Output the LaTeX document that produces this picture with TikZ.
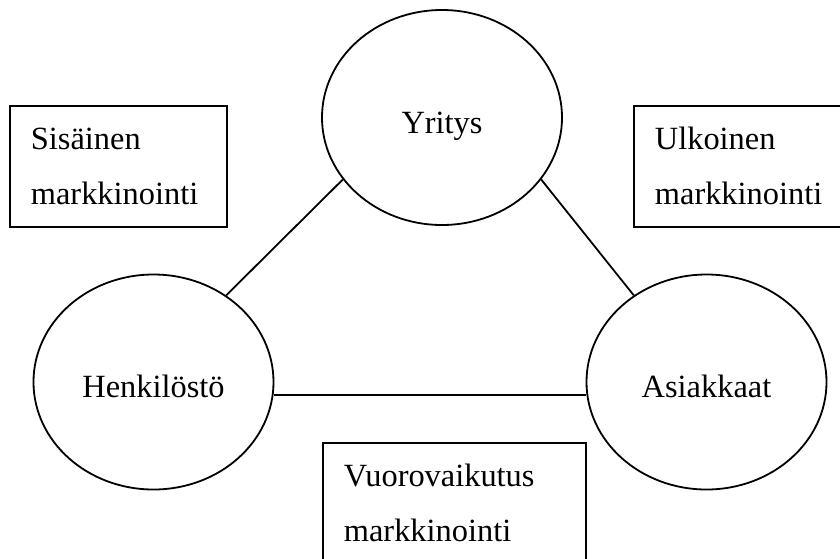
\documentclass[tikz,border=0pt]{standalone}
\usepackage{fontspec}
\setmainfont{Liberation Serif}
\usetikzlibrary{shapes.geometric}
\begin{document}
\begin{tikzpicture}[x=0.5pt, y=-0.5pt, line width=0.9pt,
    font=\fontsize{16.2}{27.5}\selectfont,
    osa/.style={draw, ellipse, minimum width=120pt, minimum height=107.5pt,
        text height=15.6pt, text depth=0pt},
    laatikko/.style={draw, rectangle, anchor=north west, align=left,
        inner xsep=10.5pt, inner ysep=0pt, minimum height=60.5pt}]
    \useasboundingbox (0,0) rectangle (840,558);
    \node[osa] (yritys) at (442,117.5) {Yritys};
    \node[osa] (henkilosto) at (153.5,382) {Henkilöstö};
    \node[osa] (asiakkaat) at (706.5,382) {Asiakkaat};
    %
    \draw (yritys.212) -- (henkilosto.50);
    \draw (yritys.328) -- (asiakkaat.130);
    \draw (henkilosto.-6) -- (asiakkaat.186);
    %
    \node[laatikko, text width=87.5pt] (sisainen) at (9,105) {Sisäinen\\markkinointi};
    \node[laatikko, text width=87.5pt] (ulkoinen) at (633,105) {Ulkoinen\\markkinointi};
    \node[laatikko, text width=110.5pt] (vuorovaikutus) at (322,442) {Vuorovaikutus\\markkinointi};
\end{tikzpicture}
\end{document}
